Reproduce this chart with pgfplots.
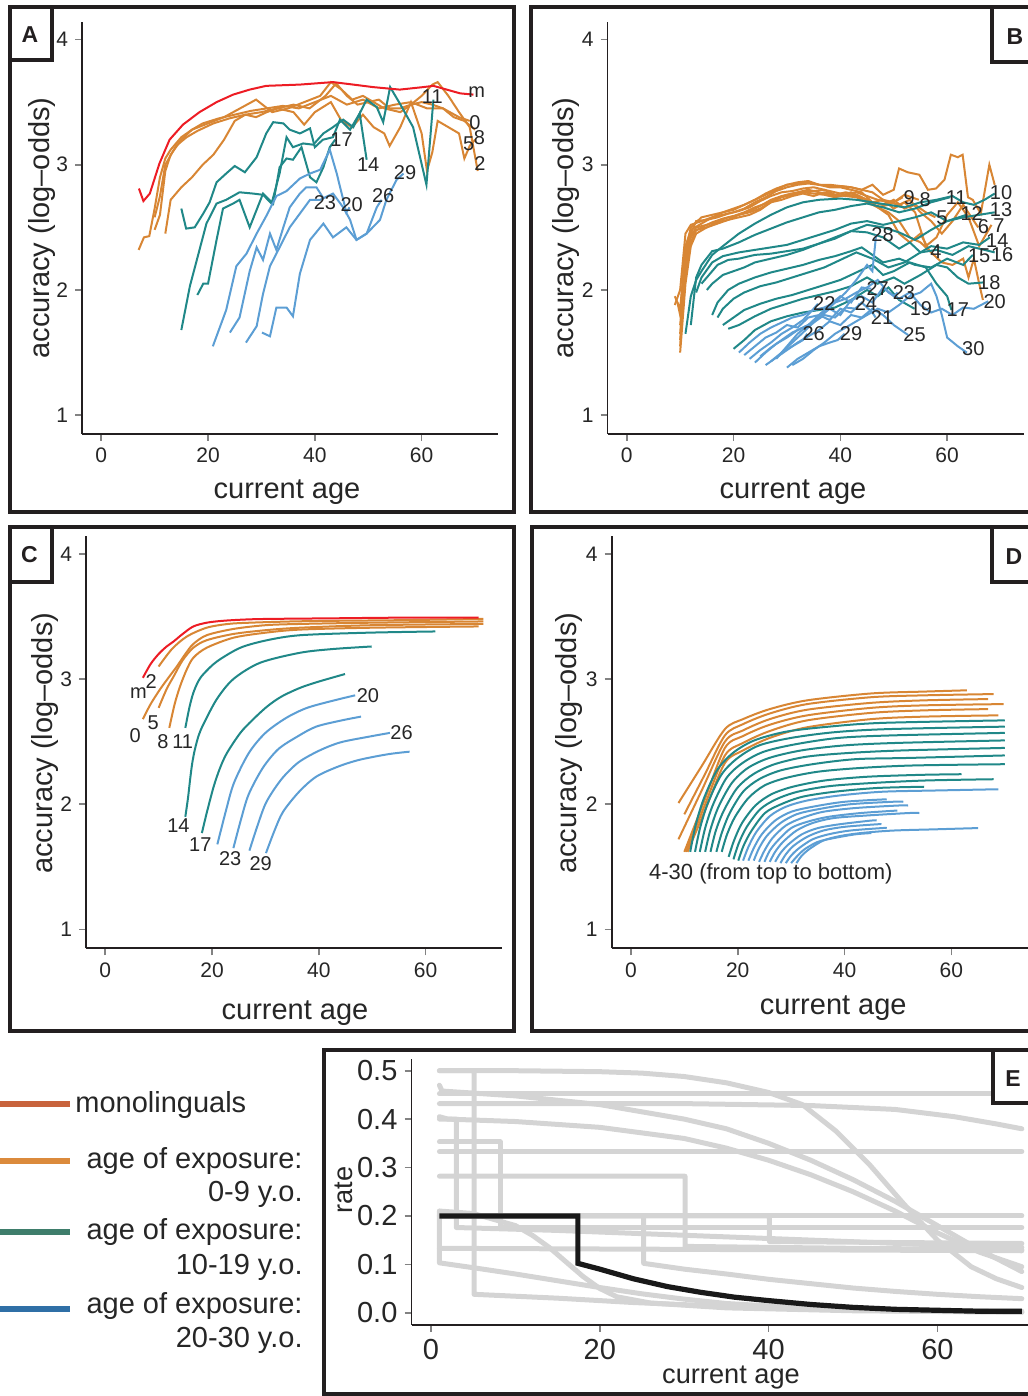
\documentclass[border=0pt]{standalone}
\usepackage{fontspec}
\setmainfont{Liberation Sans}
\usepackage{pgfplots}
\pgfplotsset{compat=1.18}
\definecolor{cred}{RGB}{237,28,36}
\definecolor{corg}{RGB}{216,134,52}
\definecolor{cteal}{RGB}{32,136,136}
\definecolor{cblue}{RGB}{92,158,212}
\definecolor{lmono}{RGB}{200,99,60}
\definecolor{lorg}{RGB}{219,138,60}
\definecolor{lteal}{RGB}{62,125,107}
\definecolor{lblue}{RGB}{47,111,166}
\definecolor{cgray}{RGB}{212,212,212}
\definecolor{ctick}{RGB}{130,130,130}
\definecolor{cframe}{RGB}{35,31,32}
\newcommand{\ann}[3]{\node[font=\fontsize{10}{12}\selectfont, text=black!85, inner sep=0pt] at (axis cs:#1,#2) {#3};}
\pgfplotsset{
 panel/.style={scale only axis, width=208pt, height=206pt, anchor=south west,
   axis lines=left, axis line style={-, line width=0.9pt, cframe},
   xmin=-3.6, xmax=74.3, ymin=0.85, ymax=4.14,
   xtick={0,20,40,60}, ytick={1,2,3,4},
   tick align=outside, major tick length=3.5pt,
   tick style={ctick, line width=0.8pt},
   tick label style={font=\fontsize{10.5}{12}\selectfont, text=black!85},
   /pgf/number format/assume math mode=true,
   clip=false},
 sre/.style={cred, line width=1pt},
 sor/.style={corg, line width=1pt},
 ste/.style={cteal, line width=1pt},
 sbl/.style={cblue, line width=1pt},
 sgr/.style={cgray, line width=2.5pt, line join=round, line cap=round},
}
\begin{document}
\begin{tikzpicture}
\path[use as bounding box] (0,0) rectangle (513.5pt,698pt);
% ================= Panel A =================
\begin{axis}[panel, at={(41pt,481pt)}]
\addplot[sor] coordinates {(7,2.32)(8,2.42)(9,2.43)(10,2.65)(11,2.9)(12,3.05)(13,3.12)(15,3.22)(17,3.28)(19,3.33)(22,3.37)(25,3.40)(28,3.43)(31,3.45)(34,3.47)(37,3.45)(40,3.5)(43,3.55)(46,3.48)(49,3.52)(52,3.45)(55,3.48)(58,3.50)(61,3.45)(64,3.45)(67,3.38)(69,3.35)};
\addplot[sor] coordinates {(10,2.48)(11,2.6)(12,2.95)(13,3.08)(15,3.2)(17,3.28)(20,3.33)(23,3.38)(26,3.45)(29,3.52)(32,3.42)(35,3.45)(38,3.50)(41,3.55)(43,3.66)(45,3.6)(47,3.52)(49,3.55)(51,3.50)(53,3.45)(56,3.42)(58,3.48)(60,3.55)(62,3.64)(63,3.66)(65,3.55)(67,3.42)(69,3.3)(70.5,2.95)};
\addplot[sor] coordinates {(10,2.58)(11,2.75)(12,3.0)(14,3.15)(16,3.22)(18,3.27)(21,3.33)(24,3.37)(27,3.40)(30,3.42)(33,3.45)(36,3.42)(38,3.32)(40,3.42)(43,3.50)(45,3.35)(47,3.3)(49,3.4)(51,3.3)(53,3.25)(54,3.15)(56,3.3)(58,3.5)(60,3.25)(61,2.95)(62,3.1)(63,3.35)(65,3.3)(67,3.25)(68,3.05)(69,3.15)(70,3.2)};
\addplot[sor] coordinates {(12,2.45)(13,2.72)(15,2.82)(17,2.9)(19,3.0)(21,3.08)(23,3.2)(25,3.35)(27,3.40)(29,3.38)(31,3.42)(33,3.45)(36,3.48)(39,3.45)(42,3.55)(44,3.65)(46,3.55)(48,3.48)(50,3.50)(52,3.52)(54,3.45)(56,3.45)(58,3.48)(60,3.50)(62,3.48)(64,3.45)(66,3.38)(68,3.35)(70,3.28)};
\addplot[ste] coordinates {(15,2.65)(15.9,2.49)(17.5,2.50)(19.1,2.61)(20.3,2.70)(21.6,2.86)(23.4,2.93)(25,2.99)(26.9,2.94)(29.1,3.06)(30.9,3.25)(32.2,3.34)(34.1,3.33)(35.3,3.28)(37.2,3.25)(39.1,3.29)(40,3.14)(41.5,3.2)(43.4,3.22)(44.7,3.36)(46.6,3.28)(48.4,3.41)(49.7,3.52)(51.6,3.46)(52.8,3.34)(54.1,3.62)(55.9,3.49)(58.4,3.30)(60.9,2.84)(62.2,3.52)};
\addplot[ste] coordinates {(15,1.68)(16.6,2.03)(18.4,2.32)(19.7,2.53)(21.6,2.69)(23.4,2.72)(25.9,2.78)(28.4,2.77)(30.3,2.76)(31.9,2.69)(33.4,2.93)(34.7,3.22)(35.9,3.14)(37.8,3.17)(39.7,3.16)(41.6,3.25)(43.4,3.30)(45.3,3.36)(47.2,3.30)(48.4,3.41)(49.7,3.04)};
\addplot[ste] coordinates {(18,1.96)(19.1,2.05)(20,2.05)(21.6,2.40)(22.8,2.65)(24.7,2.69)(25.9,2.72)(27.8,2.50)(30.3,2.77)(32.2,2.69)(33.4,2.98)(34.7,3.05)(35.9,3.04)(37.5,3.14)(39.1,2.90)(40.3,2.86)(41.6,2.98)(42.8,3.14)(43.8,3.2)};
\addplot[sbl] coordinates {(20.9,1.55)(23.4,1.84)(25.3,2.19)(27.2,2.29)(29.1,2.45)(30.9,2.59)(32.8,2.75)(34.7,2.79)(37.2,2.89)(39.1,2.93)(41,2.96)(42.8,3.12)(44.1,2.93)(45.9,2.62)(46.5,2.66)};
\addplot[sbl] coordinates {(24.1,1.66)(25.9,1.78)(27.8,2.15)(29.1,2.34)(30.3,2.24)(31.6,2.45)(32.8,2.32)(34.1,2.50)(35.3,2.66)(37.2,2.77)(38.4,2.82)(40.3,2.82)(41.5,2.74)};
\addplot[sbl] coordinates {(27.1,1.58)(29.1,1.71)(30.3,1.97)(31.6,2.19)(33.4,2.34)(35.3,2.50)(37.2,2.61)(39.1,2.72)(41,2.72)(43.4,2.77)(45.3,2.66)(46.6,2.56)(47.8,2.40)(49.7,2.45)(51.6,2.66)(52.5,2.72)};
\addplot[sbl] coordinates {(30.1,1.66)(31.6,1.63)(32.8,1.86)(34.7,1.86)(35.9,1.79)(37.2,2.13)(39.1,2.40)(41.6,2.53)(43.4,2.42)(45.9,2.50)(47.8,2.40)(49.7,2.45)(52.2,2.56)(53.4,2.72)(55.3,2.88)(56.6,2.93)};
\addplot[sre] coordinates {(7.06,2.81)(7.9,2.71)(9.1,2.77)(10.9,3.01)(12.8,3.20)(15.3,3.32)(18.4,3.42)(21.6,3.50)(24.7,3.56)(27.8,3.60)(30.9,3.63)(37.2,3.64)(43.4,3.66)(47.2,3.64)(50.9,3.62)(55.9,3.60)(60.3,3.62)(62.2,3.63)(64.7,3.60)(67.2,3.57)(69.7,3.56)};
\ann{70.3}{3.58}{m}\ann{62}{3.54}{11}\ann{70}{3.34}{0}\ann{68.8}{3.17}{5}\ann{70.8}{3.22}{8}\ann{70.9}{3.01}{2}
\ann{45}{3.2}{17}\ann{50}{3.0}{14}\ann{56.9}{2.94}{29}\ann{41.9}{2.70}{23}\ann{46.9}{2.68}{20}\ann{52.8}{2.75}{26}
\end{axis}
% ================= Panel B =================
\begin{axis}[panel, at={(303.75pt,481pt)}]
\addplot[sor] coordinates {(9,1.88)(10,2.0)(11,2.45)(12,2.52)(14,2.55)(16,2.58)(18,2.62)(20,2.65)(22,2.68)(24,2.72)(26,2.76)(28,2.80)(30,2.84)(32,2.85)(34,2.86)(36,2.84)(38,2.84)(40,2.83)(42,2.82)(44,2.80)(46,2.84)(48,2.76)(50,2.80)(51,2.97)(52.6,2.94)(54.8,2.92)(56.4,2.80)(57.9,2.81)(59.5,2.88)(60.7,3.08)(62,3.06)(62.9,3.08)(63.9,2.74)(64.8,2.72)(66.3,2.61)(67.9,3.0)(68.9,2.84)};
\addplot[sor] coordinates {(10,1.5)(11,2.05)(12,2.35)(13,2.45)(15,2.50)(17,2.54)(19,2.56)(21,2.6)(23,2.62)(25,2.65)(27,2.70)(29,2.72)(31,2.75)(33,2.77)(35,2.75)(37,2.78)(39,2.76)(41,2.75)(43,2.74)(45,2.70)(47,2.66)(49,2.62)(51,2.55)(53,2.42)(55,2.38)(57,2.30)(59,2.22)(61,2.20)(63,2.25)(64,2.10)(65,2.25)(66,2.05)(66.7,1.92)};
\addplot[sor] coordinates {(10,1.60)(11,2.1)(12,2.38)(13,2.48)(15,2.50)(17,2.53)(19,2.56)(21,2.58)(23,2.60)(25,2.64)(27,2.70)(29,2.74)(31,2.76)(33,2.78)(35,2.79)(37,2.80)(39,2.76)(41,2.78)(43,2.76)(45,2.72)(47,2.66)(49,2.68)(51.7,2.74)};
\addplot[sor] coordinates {(9,1.95)(10,1.85)(11,2.30)(12,2.50)(14,2.58)(16,2.60)(18,2.62)(20,2.64)(22,2.68)(24,2.72)(26,2.77)(28,2.81)(30,2.84)(32,2.86)(34,2.87)(36,2.84)(38,2.83)(40,2.83)(42,2.82)(44,2.80)(46,2.78)(48,2.72)(50,2.70)(52,2.76)(54.7,2.72)};
\addplot[sor] coordinates {(9.5,1.9)(10,1.8)(11,2.35)(12,2.48)(14,2.53)(16,2.58)(18,2.60)(20,2.62)(22,2.65)(24,2.70)(26,2.74)(28,2.79)(30,2.82)(32,2.84)(34,2.85)(36,2.84)(38,2.82)(40,2.82)(42,2.80)(44,2.78)(46,2.70)(48,2.68)(50,2.72)(52,2.65)(54,2.68)(56,2.62)(57.8,2.58)};
\addplot[sor] coordinates {(10,1.55)(11,2.2)(12,2.42)(13,2.50)(15,2.52)(17,2.55)(19,2.58)(21,2.60)(23,2.63)(25,2.67)(27,2.72)(29,2.75)(31,2.77)(33,2.78)(35,2.77)(37,2.76)(39,2.74)(41,2.76)(43,2.75)(45,2.72)(47,2.66)(49,2.60)(51,2.45)(53,2.38)(55,2.45)(56.7,2.31)};
\addplot[sor] coordinates {(10,1.72)(11,2.15)(12,2.45)(13,2.55)(15,2.56)(17,2.58)(19,2.61)(21,2.63)(23,2.66)(25,2.71)(27,2.75)(29,2.78)(31,2.79)(33,2.81)(35,2.82)(37,2.80)(39,2.78)(41,2.76)(43,2.78)(45,2.75)(47,2.72)(49,2.70)(51,2.68)(53,2.72)(55,2.62)(57,2.55)(59,2.45)(61,2.55)(63,2.68)(65.8,2.50)};
\addplot[sor] coordinates {(10,1.65)(11,2.25)(12,2.45)(14,2.50)(16,2.54)(18,2.57)(20,2.59)(22,2.62)(24,2.66)(26,2.69)(28,2.73)(30,2.76)(32,2.78)(34,2.80)(36,2.78)(38,2.76)(40,2.75)(42,2.78)(44,2.74)(46,2.70)(48,2.72)(50,2.65)(52,2.70)(54,2.62)(56,2.35)(58,2.42)(60,2.60)(62,2.70)(64,2.58)(66,2.35)(68.3,2.52)};
\addplot[ste] coordinates {(11,1.65)(12,1.95)(13,2.08)(14,2.15)(16,2.28)(18,2.35)(21,2.45)(24,2.53)(27,2.60)(30,2.66)(33,2.70)(36,2.72)(40,2.73)(43,2.72)(46,2.70)(49,2.68)(52,2.66)(55,2.70)(58,2.72)(61,2.75)(63,2.70)(65,2.68)(67,2.72)(68.9,2.77)};
\addplot[ste] coordinates {(12,1.72)(13,2.1)(14,2.2)(16,2.31)(18,2.33)(21,2.38)(24,2.44)(27,2.49)(30,2.54)(33,2.58)(36,2.62)(39,2.64)(42,2.67)(45,2.69)(48,2.66)(51,2.62)(54,2.65)(57,2.70)(60.5,2.74)};
\addplot[ste] coordinates {(13,1.98)(14,2.1)(16,2.22)(18,2.27)(21,2.30)(24,2.32)(27,2.34)(30,2.36)(33,2.40)(36,2.44)(39,2.48)(42,2.53)(45,2.55)(48,2.52)(51,2.55)(54,2.58)(57,2.62)(60,2.55)(63.6,2.60)};
\addplot[ste] coordinates {(14,2.05)(15,2.1)(17,2.2)(19,2.24)(21,2.25)(24,2.28)(27,2.29)(30,2.31)(33,2.33)(36,2.37)(39,2.41)(42,2.47)(45,2.52)(48,2.50)(51,2.46)(54,2.40)(57,2.48)(60,2.55)(63,2.58)(66,2.60)(68.9,2.62)};
\addplot[ste] coordinates {(15,2.0)(16,2.05)(18,2.12)(20,2.15)(22,2.18)(24,2.22)(27,2.25)(30,2.28)(33,2.32)(36,2.37)(39,2.42)(42,2.47)(45,2.46)(48,2.42)(51,2.33)(53,2.38)(55,2.30)(57,2.35)(60,2.33)(63,2.38)(66,2.36)(68,2.42)};
\addplot[ste] coordinates {(16,1.80)(17,1.9)(19,2.0)(21,2.05)(24,2.1)(27,2.14)(30,2.17)(33,2.2)(36,2.24)(39,2.27)(42,2.31)(44,2.34)(46,2.28)(48,2.22)(51,2.25)(54,2.20)(57,2.18)(60,2.25)(63,2.2)(64.8,2.28)};
\addplot[ste] coordinates {(17,1.78)(18,1.85)(20,1.93)(22,1.98)(25,2.03)(28,2.06)(31,2.10)(34,2.14)(37,2.18)(40,2.24)(43,2.30)(46,2.25)(49,2.18)(52,2.22)(55,2.30)(58,2.32)(61,2.28)(64,2.35)(67,2.32)(68.9,2.30)};
\addplot[ste] coordinates {(18,1.72)(20,1.78)(22,1.84)(25,1.89)(28,1.93)(31,1.96)(34,2.0)(37,2.04)(40,2.08)(43,2.14)(46,2.20)(48,2.12)(50,2.15)(53,2.22)(56,2.18)(58,2.05)(60,1.95)(60.8,1.84)};
\addplot[ste] coordinates {(19,1.69)(21,1.72)(24,1.79)(27,1.85)(30,1.89)(33,1.93)(36,1.96)(39,1.99)(42,2.03)(45,2.10)(47,2.05)(50,2.10)(52,2.05)(55,2.12)(58,2.20)(60,2.18)(62,2.10)(64,2.05)(66.7,2.06)};
\addplot[ste] coordinates {(20,1.53)(22,1.60)(24,1.68)(27,1.75)(30,1.79)(33,1.82)(36,1.84)(39,1.86)(42,1.92)(45,2.0)(47,1.95)(49,2.02)(51,1.92)(53.9,1.85)};
\addplot[sbl] coordinates {(21,1.50)(23,1.58)(25,1.65)(27,1.70)(29,1.74)(31,1.78)(33,1.80)(35,1.84)(37,1.86)(39,1.90)(41,1.93)(43,1.98)(45,2.02)(47,2.08)(49,1.98)(51,1.93)(53,1.98)(55,1.88)(57,1.82)(59,1.85)(61,1.80)(63,1.86)(65,1.85)(67.7,1.91)};
\addplot[sbl] coordinates {(22,1.48)(24,1.55)(26,1.62)(28,1.66)(30,1.72)(32,1.70)(34,1.78)(36,1.80)(38,1.76)(40,1.85)(42,1.82)(44,1.90)(46,1.82)(46.6,1.78)};
\addplot[sbl] coordinates {(23,1.45)(25,1.52)(27,1.58)(29,1.65)(31,1.70)(33,1.76)(35,1.85)(35.8,1.89)};
\addplot[sbl] coordinates {(24,1.42)(26,1.50)(28,1.57)(30,1.62)(32,1.68)(34,1.72)(36,1.78)(38,1.85)(40,1.80)(42,1.92)(44,1.95)(46,1.90)(48,2.02)(50,1.95)(50.7,1.98)};
\addplot[sbl] coordinates {(25,1.47)(27,1.54)(29,1.60)(31,1.66)(33,1.70)(35,1.74)(37,1.80)(39,1.78)(41,1.86)(43,1.85)(43.6,1.89)};
\addplot[sbl] coordinates {(26,1.40)(28,1.46)(30,1.52)(32,1.58)(34,1.63)(36,1.68)(38,1.75)(40,1.72)(42,1.80)(44,1.78)(46,1.85)(48,1.80)(50,1.72)(52.7,1.64)};
\addplot[sbl] coordinates {(27,1.43)(29,1.50)(31,1.55)(33,1.60)(33.8,1.65)};
\addplot[sbl] coordinates {(28,1.45)(30,1.55)(32,1.65)(34,1.72)(36,1.80)(38,1.88)(40,1.95)(42,1.90)(44,2.02)(45.8,2.01)};
\addplot[sbl] coordinates {(29,1.50)(31,1.58)(33,1.66)(35,1.74)(37,1.82)(39,1.90)(41,1.98)(43,2.08)(45,2.20)(46,2.15)(46.7,2.44)};
\addplot[sbl] coordinates {(30,1.38)(32,1.45)(34,1.50)(36,1.55)(38,1.58)(39.5,1.60)(40.8,1.65)};
\addplot[sbl] coordinates {(31,1.40)(33,1.45)(35,1.52)(37,1.58)(39,1.65)(41,1.70)(43,1.75)(45,1.80)(47,1.85)(49,1.82)(51,1.88)(53,1.95)(55,1.98)(57,2.05)(58,1.95)(59,1.80)(60,1.62)(62,1.55)(63.7,1.50)};
\ann{52.9}{2.74}{9}\ann{55.9}{2.72}{8}\ann{61.7}{2.74}{11}\ann{70.1}{2.775}{10}\ann{59}{2.58}{5}\ann{64.6}{2.61}{12}\ann{70.1}{2.64}{13}
\ann{66.8}{2.505}{6}\ann{69.7}{2.515}{7}\ann{69.4}{2.395}{14}\ann{47.9}{2.44}{28}\ann{57.9}{2.31}{4}\ann{66}{2.275}{15}\ann{70.3}{2.28}{16}
\ann{67.9}{2.06}{18}\ann{47}{2.01}{27}\ann{51.9}{1.98}{23}\ann{37}{1.89}{22}\ann{44.8}{1.89}{24}\ann{68.9}{1.91}{20}\ann{55.1}{1.85}{19}
\ann{62}{1.84}{17}\ann{47.8}{1.78}{21}\ann{35}{1.65}{26}\ann{42}{1.65}{29}\ann{53.9}{1.64}{25}\ann{64.9}{1.53}{30}
\end{axis}
% ================= Panel C =================
\begin{axis}[panel, at={(43pt,223.85pt)}]
\addplot[sor, smooth] coordinates {(10,3.10)(12.5,3.24)(15.3,3.34)(19,3.41)(23,3.44)(27.1,3.45)(35,3.46)(42.7,3.465)(55,3.47)(70.8,3.48)};
\addplot[sor, smooth] coordinates {(7.05,2.68)(8.5,2.80)(10.3,2.92)(12,3.02)(13.4,3.10)(15,3.20)(16.5,3.28)(19,3.35)(24,3.40)(30,3.43)(36.5,3.44)(50,3.45)(70.8,3.46)};
\addplot[sor, smooth] coordinates {(10,2.77)(11.5,2.92)(12.8,3.02)(14.5,3.15)(16.5,3.25)(19,3.31)(24,3.36)(30,3.39)(36.5,3.41)(50,3.43)(70.8,3.44)};
\addplot[sor, smooth] coordinates {(12,2.61)(13,2.80)(14,2.94)(15.2,3.07)(16.5,3.17)(19,3.25)(24,3.33)(30,3.37)(36.5,3.395)(50,3.41)(69.9,3.42)};
\addplot[ste, smooth] coordinates {(15,2.61)(15.8,2.78)(16.5,2.89)(17.4,2.98)(18.4,3.04)(20.9,3.14)(25.3,3.25)(30.3,3.31)(36.5,3.35)(49,3.37)(61.8,3.38)};
\addplot[ste, smooth] coordinates {(15,1.90)(15.5,2.05)(15.9,2.20)(16.3,2.33)(16.8,2.44)(17.5,2.55)(18.4,2.64)(20.9,2.84)(24,3.0)(29,3.13)(36.5,3.21)(42.7,3.24)(49.9,3.26)};
\addplot[ste, smooth] coordinates {(18.1,1.77)(19,1.93)(20.3,2.14)(21.5,2.29)(22.8,2.41)(25.3,2.57)(27.5,2.67)(30.3,2.78)(33,2.86)(36.5,2.93)(40,2.98)(44.9,3.04)};
\addplot[sbl, smooth] coordinates {(21,1.68)(22.55,1.94)(24.1,2.17)(26.9,2.41)(30.0,2.57)(33.9,2.69)(37.8,2.77)(42.9,2.83)(46.8,2.87)};
\addplot[sbl, smooth] coordinates {(24,1.65)(25.43,1.88)(26.87,2.08)(29.5,2.29)(32.4,2.44)(35.95,2.54)(39.5,2.62)(44.3,2.67)(47.9,2.70)};
\addplot[sbl, smooth] coordinates {(27,1.63)(28.6,1.84)(30.2,2.02)(33.0,2.20)(36.2,2.335)(40.15,2.43)(44.1,2.495)(49.4,2.54)(53.3,2.57)};
\addplot[sbl, smooth] coordinates {(30.1,1.61)(31.7,1.79)(33.3,1.94)(36.3,2.10)(39.5,2.22)(43.55,2.30)(47.6,2.355)(53.0,2.40)(57.0,2.42)};
\addplot[sre, smooth] coordinates {(7.05,3.01)(8.5,3.12)(10,3.2)(11.5,3.26)(12.8,3.30)(14.5,3.36)(16.5,3.42)(19,3.45)(22,3.465)(26,3.475)(30.3,3.48)(42.7,3.485)(55,3.49)(69.9,3.49)};
\ann{6.2}{2.89}{m}\ann{8.6}{2.98}{2}\ann{5.6}{2.55}{0}\ann{9}{2.65}{5}\ann{10.8}{2.50}{8}\ann{14.5}{2.50}{11}
\ann{13.7}{1.83}{14}\ann{17.8}{1.68}{17}\ann{23.4}{1.57}{23}\ann{29.1}{1.53}{29}\ann{49.2}{2.87}{20}\ann{55.5}{2.57}{26}
\end{axis}
% ================= Panel D =================
\begin{axis}[panel, at={(305.85pt,223.85pt)}]
\addplot[sor, smooth] coordinates {(8.9,2.01)(13.25,2.305)(17.6,2.60)(21,2.68)(26,2.76)(33,2.83)(45,2.885)(55,2.90)(62.9,2.91)};
\addplot[sor, smooth] coordinates {(10,1.92)(13.8,2.235)(17.6,2.55)(21,2.64)(26,2.725)(33,2.80)(45,2.855)(55,2.87)(67.9,2.88)};
\addplot[sor, smooth] coordinates {(8.9,1.72)(13.25,2.11)(17.6,2.50)(21,2.59)(26,2.68)(33,2.755)(45,2.81)(55,2.83)(66.9,2.84)};
\addplot[sor, smooth] coordinates {(10,1.62)(13.8,2.035)(17.6,2.45)(21,2.545)(26,2.635)(33,2.71)(45,2.77)(55,2.79)(69.8,2.80)};
\addplot[sor, smooth] coordinates {(10.3,1.62)(13.95,2.005)(17.6,2.39)(21,2.49)(26,2.585)(33,2.67)(45,2.73)(55,2.75)(66.9,2.76)};
\addplot[sor, smooth] coordinates {(10.6,1.62)(14.1,1.975)(17.6,2.33)(21,2.43)(26,2.53)(33,2.615)(45,2.68)(55,2.70)(68.8,2.71)};
\addplot[ste, smooth] coordinates {(11.1,1.62)(12.1,1.83)(13.6,2.04)(16.1,2.27)(19.1,2.41)(23.1,2.51)(29.1,2.58)(37.1,2.62)(47.1,2.65)(70,2.67)};
\addplot[ste, smooth] coordinates {(12,1.62)(13,1.82)(14.5,2.02)(17,2.24)(20,2.37)(24,2.47)(30,2.53)(38,2.575)(48,2.60)(70,2.62)};
\addplot[ste, smooth] coordinates {(12.9,1.62)(13.9,1.81)(15.4,2.0)(17.9,2.21)(20.9,2.33)(24.9,2.42)(30.9,2.48)(38.9,2.53)(48.9,2.55)(70,2.57)};
\addplot[ste, smooth] coordinates {(13.9,1.62)(14.9,1.80)(16.4,1.98)(18.9,2.17)(21.9,2.29)(25.9,2.37)(31.9,2.43)(39.9,2.47)(49.9,2.49)(70,2.51)};
\addplot[ste, smooth] coordinates {(14.9,1.62)(15.9,1.79)(17.4,1.95)(19.9,2.13)(22.9,2.24)(26.9,2.32)(32.9,2.38)(40.9,2.41)(50.9,2.43)(70,2.45)};
\addplot[ste, smooth] coordinates {(16,1.62)(17,1.77)(18.5,1.93)(21,2.10)(24,2.20)(28,2.27)(34,2.32)(42,2.36)(52,2.37)(70,2.39)};
\addplot[ste, smooth] coordinates {(17,1.62)(18,1.76)(19.5,1.90)(22,2.05)(25,2.15)(29,2.21)(35,2.26)(43,2.29)(53,2.31)(70,2.32)};
\addplot[ste, smooth] coordinates {(18.3,1.58)(19.3,1.71)(20.8,1.85)(23.3,1.99)(26.3,2.08)(30.3,2.14)(36.3,2.19)(44.3,2.22)(54.3,2.235)(61.9,2.24)};
\addplot[ste, smooth] coordinates {(19.2,1.56)(20.2,1.69)(21.7,1.82)(24.2,1.96)(27.2,2.04)(31.2,2.10)(37.2,2.145)(45.2,2.17)(55.2,2.19)(67.9,2.20)};
\addplot[ste, smooth] coordinates {(20.1,1.55)(21.1,1.67)(22.6,1.79)(25.1,1.93)(28.1,2.0)(32.1,2.06)(38.1,2.10)(46.1,2.13)(54.9,2.14)};
\addplot[sbl, smooth] coordinates {(21,1.55)(22,1.66)(23.5,1.78)(26,1.905)(29,1.98)(33,2.03)(39,2.07)(47,2.10)(57,2.11)(68.8,2.12)};
\addplot[sbl, smooth] coordinates {(22,1.55)(23,1.65)(24.5,1.76)(27,1.87)(30,1.94)(34,1.98)(40,2.02)(47.9,2.04)};
\addplot[sbl, smooth] coordinates {(23,1.55)(24,1.65)(25.5,1.75)(28,1.85)(31,1.92)(35,1.96)(41,2.0)(49,2.02)(51,2.02)};
\addplot[sbl, smooth] coordinates {(24,1.54)(25,1.63)(26.5,1.73)(29,1.83)(32,1.89)(36,1.94)(42,1.97)(50,1.99)(51.9,1.99)};
\addplot[sbl, smooth] coordinates {(25,1.54)(26,1.63)(27.5,1.71)(30,1.81)(33,1.86)(37,1.90)(43,1.93)(49.9,1.95)};
\addplot[sbl, smooth] coordinates {(26,1.54)(27,1.62)(28.5,1.70)(31,1.79)(34,1.85)(38,1.89)(44,1.91)(52,1.93)(54,1.93)};
\addplot[sbl, smooth] coordinates {(27,1.54)(28,1.61)(29.5,1.68)(32,1.76)(35,1.81)(39,1.84)(45,1.87)(46,1.87)};
\addplot[sbl, smooth] coordinates {(28,1.53)(29,1.60)(30.5,1.67)(33,1.74)(36,1.79)(40,1.82)(46,1.84)(46.9,1.84)};
\addplot[sbl, smooth] coordinates {(29,1.53)(30,1.59)(31.5,1.65)(34,1.72)(37,1.76)(41,1.79)(47,1.81)(47.9,1.81)};
\addplot[sbl, smooth] coordinates {(30,1.53)(31,1.58)(32.5,1.64)(35,1.70)(38,1.73)(42,1.76)(45,1.77)};
\addplot[sbl, smooth] coordinates {(31,1.53)(32,1.59)(33.5,1.645)(36,1.71)(39,1.745)(43,1.77)(49,1.79)(57,1.80)(65,1.81)};
\node[font=\fontsize{11}{13}\selectfont, text=black!85] at (axis cs:26.2,1.445) {4-30 (from top to bottom)};
\end{axis}
% ================= Panel E =================
\begin{axis}[at={(205.75pt,35.5pt)}, anchor=south west, scale only axis, width=313.6pt, height=132.85pt,
   axis lines=left, axis line style={-, line width=0.9pt, cframe},
   xmin=-2.31, xmax=72, ymin=-0.0254, ymax=0.5236,
   xtick={0,20,40,60}, ytick={0,0.1,0.2,0.3,0.4,0.5},
   tick align=outside, major tick length=3.5pt,
   tick style={ctick, line width=0.8pt},
   tick label style={font=\fontsize{14.5}{16}\selectfont, text=black!85},
   yticklabel style={/pgf/number format/.cd, fixed, fixed zerofill, precision=1},
   /pgf/number format/assume math mode=true, clip=false]
\addplot[sgr] coordinates {(1,0.5)(10,0.5)(20,0.498)(25,0.495)(30,0.488)(35,0.475)(40,0.455)(44,0.43)(48,0.375)(52,0.305)(56,0.225)(60,0.15)(64,0.095)(67,0.07)(70,0.052)};
\addplot[sgr] coordinates {(1,0.452)(70,0.452)};
\addplot[sgr] coordinates {(1,0.432)(30,0.432)(45,0.428)(55,0.42)(62,0.405)(67,0.39)(70,0.38)};
\addplot[sgr] coordinates {(1,0.47)(1.3,0.458)(10,0.448)(20,0.43)(30,0.40)(35,0.38)(40,0.35)(45,0.315)(50,0.275)(55,0.23)(60,0.18)(65,0.13)(70,0.085)};
\addplot[sgr] coordinates {(1,0.405)(2,0.40)(10,0.395)(20,0.383)(30,0.36)(35,0.34)(40,0.315)(45,0.285)(50,0.25)(55,0.21)(60,0.165)(65,0.125)(70,0.095)};
\addplot[sgr] coordinates {(1,0.40)(3,0.40)(3,0.176)(15,0.17)(30,0.16)(45,0.15)(60,0.14)(70,0.135)};
\addplot[sgr] coordinates {(1,0.5)(5.1,0.5)(5.1,0.038)(15,0.03)(24,0.021)(35,0.013)(45,0.008)(55,0.005)(70,0.003)};
\addplot[sgr] coordinates {(1,0.353)(8.2,0.353)(8.2,0.176)(70,0.176)};
\addplot[sgr] coordinates {(1,0.333)(70,0.333)};
\addplot[sgr] coordinates {(1,0.282)(30.1,0.282)(30.1,0.137)(50,0.133)(70,0.13)};
\addplot[sgr] coordinates {(1,0.2)(25.2,0.2)(25.2,0.102)(30,0.09)(35,0.08)(40,0.069)(45,0.06)(50,0.051)(55,0.044)(60,0.038)(65,0.033)(70,0.029)};
\addplot[sgr] coordinates {(1,0.2)(40.1,0.2)(40.1,0.147)(55,0.145)(70,0.143)};
\addplot[sgr] coordinates {(1,0.2)(70,0.2)};
\addplot[sgr] coordinates {(1,0.21)(5,0.205)(8,0.19)(10,0.18)(12,0.16)(14,0.135)(16,0.105)(18,0.075)(20,0.05)(22,0.033)(26,0.02)(35,0.01)(50,0.004)(70,0.001)};
\addplot[sgr] coordinates {(1,0.133)(70,0.128)};
\addplot[sgr] coordinates {(1,0.21)(1,0.103)(5,0.093)(10,0.08)(15,0.066)(20,0.052)(25,0.039)(30,0.028)(35,0.019)(45,0.009)(55,0.004)(70,0.001)};
\addplot[black!90, line width=2.6pt, line join=miter] coordinates {(1,0.2)(17.4,0.2)(17.4,0.102)(20,0.09)(24,0.07)(28,0.054)(32,0.042)(36,0.032)(40,0.025)(45,0.017)(50,0.011)(55,0.007)(60,0.005)(65,0.003)(70,0.003)};
\end{axis}
% ================= axis labels =================
\begin{scope}[every node/.style={font=\fontsize{14.5}{17}\selectfont, text=black!85}]
\node at (143.5pt,451.75pt) {current age};
\node[rotate=90] at (21.25pt,584pt) {accuracy (log–odds)};
\node at (396.5pt,452pt) {current age};
\node[rotate=90] at (282.9pt,584pt) {accuracy (log–odds)};
\node at (147.5pt,191.35pt) {current age};
\node[rotate=90] at (22.5pt,326.35pt) {accuracy (log–odds)};
\node at (416.65pt,193.85pt) {current age};
\node[rotate=90] at (284.5pt,326.35pt) {accuracy (log–odds)};
\end{scope}
\node[font=\fontsize{13.6}{16}\selectfont, text=black!85] at (365.5pt,9pt) {current age};
\node[font=\fontsize{13.6}{16}\selectfont, text=black!85, rotate=90] at (171.8pt,103pt) {rate};
% ================= frames =================
\begin{scope}[cframe, line width=2pt]
\draw (5pt,442pt) rectangle (257pt,694.5pt);
\draw (265.5pt,442pt) rectangle (520pt,694.5pt);
\draw (4.75pt,182.5pt) rectangle (256.75pt,434.5pt);
\draw (266pt,182.5pt) rectangle (520pt,434.5pt);
\draw (161.8pt,1pt) rectangle (520pt,173pt);
\draw[fill=white] (5pt,668pt) rectangle (26pt,694.5pt);
\draw[fill=white] (495.85pt,667.15pt) rectangle (520pt,694.5pt);
\draw[fill=white] (5pt,407.15pt) rectangle (26pt,434.5pt);
\draw[fill=white] (496.15pt,407.15pt) rectangle (520pt,434.5pt);
\draw[fill=white] (496.5pt,146.5pt) rectangle (520pt,173pt);
\end{scope}
\begin{scope}[every node/.style={font=\fontsize{11.5}{13}\selectfont\bfseries, text=cframe}]
\node at (15pt,680.65pt) {A};
\node at (507.5pt,679.5pt) {B};
\node at (14.75pt,420.5pt) {C};
\node at (507pt,419.5pt) {D};
\node at (506.5pt,158.5pt) {E};
\end{scope}
% ================= legend =================
\draw[lmono, line width=2.6pt] (0pt,146pt) -- (35pt,146pt);
\draw[lorg, line width=2.6pt] (0pt,117.5pt) -- (35pt,117.5pt);
\draw[lteal, line width=2.6pt] (0pt,82pt) -- (35pt,82pt);
\draw[lblue, line width=2.6pt] (0pt,43.5pt) -- (35pt,43.5pt);
\begin{scope}[every node/.style={font=\fontsize{14.5}{17}\selectfont, text=black!85, inner sep=0pt}]
\node[anchor=base west] at (37.5pt,141.65pt) {monolinguals};
\node[anchor=base east] at (151.5pt,113.85pt) {age of exposure:};
\node[anchor=base east] at (151.5pt,97.15pt) {0-9 y.o.};
\node[anchor=base east] at (151.5pt,78.35pt) {age of exposure:};
\node[anchor=base east] at (151.5pt,60.85pt) {10-19 y.o.};
\node[anchor=base east] at (151.5pt,41.35pt) {age of exposure:};
\node[anchor=base east] at (151.5pt,24.15pt) {20-30 y.o.};
\end{scope}
\end{tikzpicture}
\end{document}
